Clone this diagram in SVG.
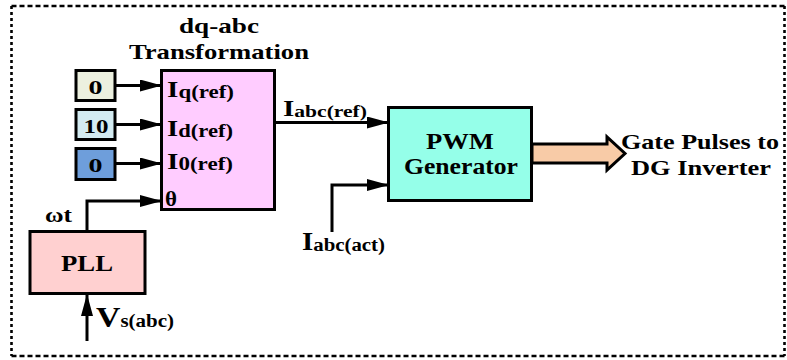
<svg xmlns="http://www.w3.org/2000/svg" width="787" height="360" viewBox="0 0 787 360">
<style>
text{font-family:"Liberation Serif","Times New Roman",serif;font-weight:bold;fill:#000}
.box{stroke:#000;stroke-width:3}
.wire{fill:none;stroke:#000;stroke-width:3;marker-end:url(#ah)}
.bh{fill:none;stroke:#000;stroke-width:2.6;stroke-dasharray:5 3}
.bv{fill:none;stroke:#000;stroke-width:2.6;stroke-dasharray:3 3}
</style>
<defs>
<marker id="ah" viewBox="0 0 22 12" refX="21" refY="6" markerWidth="22" markerHeight="12" markerUnits="userSpaceOnUse" orient="auto">
<path d="M0,0 L22,6 L0,12 z" fill="#000"/>
</marker>
</defs>
<g id="border">
<line class="bh" x1="11.5" y1="6" x2="784.5" y2="6"/>
<line class="bh" x1="11.5" y1="356" x2="784.5" y2="356"/>
<line class="bv" x1="11.5" y1="6" x2="11.5" y2="356"/>
<line class="bv" x1="784.5" y1="6" x2="784.5" y2="356"/>
</g>
<g id="connectors">
<path class="wire" d="M115,85.5 H161"/>
<path class="wire" d="M115,124.5 H161"/>
<path class="wire" d="M115,163.5 H161"/>
<path class="wire" d="M87,232 V201 H161"/>
<path class="wire" d="M275,122.5 H388"/>
<path class="wire" d="M332,232 V185 H388"/>
<path class="wire" d="M87,341 V295"/>
<polygon points="532,144 607,144 607,137 625,153.5 607,170 607,163 532,163" fill="#F8CBA7" stroke="#000" stroke-width="3"/>
</g>
<g id="const-q">
<rect class="box" x="76" y="70.5" width="39" height="30" fill="#ECF0DF"/>
<text x="95.5" y="93.5" font-size="19" text-anchor="middle" textLength="14" lengthAdjust="spacingAndGlyphs">0</text>
</g>
<g id="const-d">
<rect class="box" x="76" y="109.5" width="39" height="30" fill="#D3EBF1"/>
<text x="96" y="132.5" font-size="19" text-anchor="middle" textLength="25" lengthAdjust="spacingAndGlyphs">10</text>
</g>
<g id="const-0">
<rect class="box" x="76" y="148.5" width="39" height="31" fill="#6E9EDB"/>
<text x="95.5" y="171.5" font-size="19" text-anchor="middle" textLength="14" lengthAdjust="spacingAndGlyphs">0</text>
</g>
<g id="dqabc">
<text x="219" y="33" font-size="21" text-anchor="middle" textLength="80" lengthAdjust="spacingAndGlyphs">dq-abc</text>
<text x="219" y="59" font-size="22" text-anchor="middle" textLength="180" lengthAdjust="spacingAndGlyphs">Transformation</text>
<rect class="box" x="161.5" y="70.5" width="113" height="139" fill="#FFCCFF"/>
<text x="167" y="96.5" textLength="67" lengthAdjust="spacingAndGlyphs"><tspan font-size="23">I</tspan><tspan font-size="18" dy="1">q(ref)</tspan></text>
<text x="167" y="135.5" textLength="66" lengthAdjust="spacingAndGlyphs"><tspan font-size="23">I</tspan><tspan font-size="18" dy="1">d(ref)</tspan></text>
<text x="167" y="168.5" textLength="66" lengthAdjust="spacingAndGlyphs"><tspan font-size="23">I</tspan><tspan font-size="18" dy="1">0(ref)</tspan></text>
<text x="165" y="206" font-size="21" textLength="12" lengthAdjust="spacingAndGlyphs">θ</text>
</g>
<g id="labels">
<text x="283" y="115.5" textLength="84" lengthAdjust="spacingAndGlyphs"><tspan font-size="23">I</tspan><tspan font-size="17" dy="1">abc(ref)</tspan></text>
<text x="302" y="250" textLength="83" lengthAdjust="spacingAndGlyphs"><tspan font-size="25">I</tspan><tspan font-size="18" dy="1">abc(act)</tspan></text>
<text x="45" y="222" font-size="20" textLength="27" lengthAdjust="spacingAndGlyphs">ωt</text>
<text x="96" y="327" textLength="78" lengthAdjust="spacingAndGlyphs"><tspan font-size="29">V</tspan><tspan font-size="18">s(abc)</tspan></text>
</g>
<g id="pwm">
<rect class="box" x="388.5" y="107.5" width="143" height="93" fill="#95FFE9"/>
<text x="460" y="148.5" font-size="23" text-anchor="middle" textLength="68" lengthAdjust="spacingAndGlyphs">PWM</text>
<text x="461" y="173.5" font-size="23" text-anchor="middle" textLength="114" lengthAdjust="spacingAndGlyphs">Generator</text>
</g>
<g id="pll">
<rect class="box" x="30" y="231.5" width="115" height="62" fill="#FFD0D0"/>
<text x="87" y="270.5" font-size="23" text-anchor="middle" textLength="52" lengthAdjust="spacingAndGlyphs">PLL</text>
</g>
<g id="output">
<text x="700" y="148.5" font-size="22" text-anchor="middle" textLength="158" lengthAdjust="spacingAndGlyphs">Gate Pulses to</text>
<text x="701" y="175" font-size="22" text-anchor="middle" textLength="140" lengthAdjust="spacingAndGlyphs">DG Inverter</text>
</g>
</svg>
